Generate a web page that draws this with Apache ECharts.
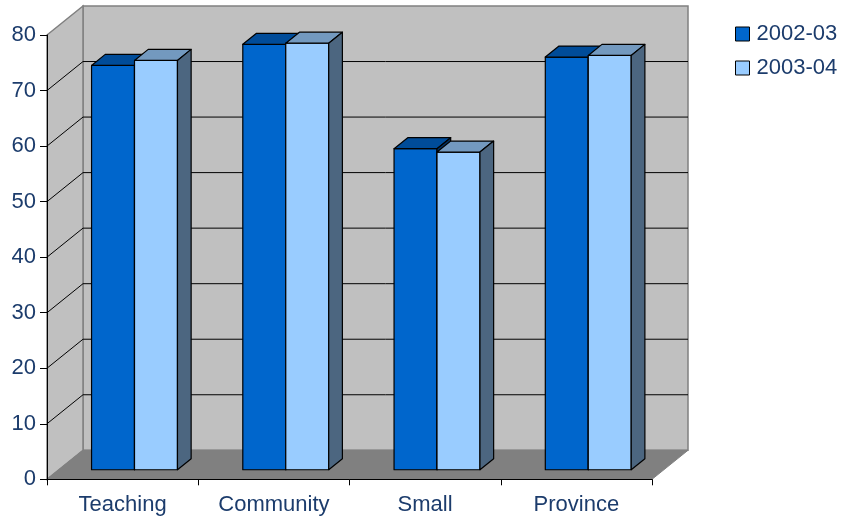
<!DOCTYPE html>
<html>
<head>
<meta charset="utf-8">
<script src="https://cdn.jsdelivr.net/npm/echarts@6/dist/echarts.min.js"></script>
<style>
  html, body { margin: 0; padding: 0; background: #ffffff; }
  #chart { width: 842px; height: 518px; }
</style>
</head>
<body>
<div id="chart"></div>
<script>
// Categories and values per school year
const categories = ['Teaching', 'Community', 'Small', 'Province'];
const seriesNames = ['2002-03', '2003-04'];
const values2002 = [72.8, 76.6, 57.8, 74.3];
const values2003 = [73.7, 76.8, 57.2, 74.6];
const yTicks = { min: 0, max: 80, interval: 10 };

// Box-drawing look
const FONT = "'Liberation Sans', Arial, sans-serif";
const TEXT_COLOR = '#1c3c6c';
const WALL = { x: 36, y: -29 };          // pixel offset from front plane to back wall
const FRONT_D = 0.33;                    // depth fraction of the bar front faces
const BAR_D = 0.38;                      // bar thickness as depth fraction
const BAR_FRAC = 0.284;                  // bar width as share of a category band
const PALETTE = [
  { front: '#0066cc', top: '#004c99', side: '#003366' },
  { front: '#99ccff', top: '#7399bf', side: '#4c6680' }
];

function renderWalls(params, api) {
  const band = api.size([1, 0])[0];
  const left = api.coord([0, 0])[0] - band / 2;
  const right = api.coord([categories.length - 1, 0])[0] + band / 2;
  const yAt = v => api.coord([0, v])[1];
  const y0 = yAt(yTicks.min), yTop = yAt(yTicks.max);
  const dx = WALL.x, dy = WALL.y;
  const wallStyle = { fill: '#c0c0c0', stroke: '#808080', lineWidth: 1.5 };
  const children = [
    { type: 'polygon', shape: { points: [[left + dx, yTop + dy], [right + dx, yTop + dy], [right + dx, y0 + dy], [left + dx, y0 + dy]] }, style: wallStyle },
    { type: 'polygon', shape: { points: [[left, yTop], [left + dx, yTop + dy], [left + dx, y0 + dy], [left, y0]] }, style: wallStyle },
    { type: 'polygon', shape: { points: [[left, y0], [right, y0], [right + dx, y0 + dy], [left + dx, y0 + dy]] }, style: { fill: '#808080', stroke: '#808080', lineWidth: 1 } }
  ];
  for (let v = yTicks.min + yTicks.interval; v < yTicks.max; v += yTicks.interval) {
    const y = yAt(v);
    children.push({ type: 'line', shape: { x1: left + dx, y1: y + dy, x2: right + dx, y2: y + dy }, style: { stroke: '#000', lineWidth: 1 } });
    children.push({ type: 'line', shape: { x1: left, y1: y, x2: left + dx, y2: y + dy }, style: { stroke: '#000', lineWidth: 1 } });
  }
  return { type: 'group', children };
}

function makeBarRenderer(idx) {
  const col = PALETTE[idx];
  return function (params, api) {
    const cat = api.value(0), v = api.value(1);
    const band = api.size([1, 0])[0];
    const w = band * BAR_FRAC;
    const base = api.coord([cat, 0]);
    const top = api.coord([cat, v]);
    const fx = WALL.x * FRONT_D, fy = WALL.y * FRONT_D;
    const dx = WALL.x * BAR_D, dy = WALL.y * BAR_D;
    const x0 = base[0] + fx + (idx === 0 ? -w : 0);
    const x1 = x0 + w;
    const yb = base[1] + fy, yt = top[1] + fy;
    const edge = { stroke: '#000', lineWidth: 1.2, lineJoin: 'round' };
    return {
      type: 'group',
      children: [
        { type: 'polygon', shape: { points: [[x0, yb], [x1, yb], [x1, yt], [x0, yt]] }, style: Object.assign({ fill: col.front }, edge) },
        { type: 'polygon', shape: { points: [[x0, yt], [x1, yt], [x1 + dx, yt + dy], [x0 + dx, yt + dy]] }, style: Object.assign({ fill: col.top }, edge) },
        { type: 'polygon', shape: { points: [[x1, yb], [x1, yt], [x1 + dx, yt + dy], [x1 + dx, yb + dy]] }, style: Object.assign({ fill: col.side }, edge) }
      ]
    };
  };
}

const chart = echarts.init(document.getElementById('chart'), null, { renderer: 'canvas' });
chart.setOption({
  animation: false,
  backgroundColor: '#ffffff',
  grid: { left: 47, right: 190, top: 35, bottom: 38.7, containLabel: false },
  legend: {
    orient: 'vertical',
    left: 730,
    top: 18,
    itemWidth: 14,
    itemHeight: 14,
    itemGap: 12,
    icon: 'rect',
    textStyle: { fontFamily: FONT, fontSize: 22, color: TEXT_COLOR, padding: [0, 0, 0, 2] },
    data: seriesNames.map((n, i) => ({ name: n, itemStyle: { color: PALETTE[i].front, borderColor: '#000', borderWidth: 1 } }))
  },
  xAxis: {
    type: 'category',
    data: categories,
    z: 5,
    boundaryGap: true,
    axisLine: { lineStyle: { color: '#000', width: 1 } },
    axisTick: { show: true, length: 6, lineStyle: { color: '#000' } },
    axisLabel: { fontFamily: FONT, fontSize: 22, color: TEXT_COLOR, margin: 15 },
    splitLine: { show: false }
  },
  yAxis: {
    type: 'value',
    min: yTicks.min,
    max: yTicks.max,
    interval: yTicks.interval,
    z: 5,
    axisLine: { show: true, lineStyle: { color: '#000', width: 1 } },
    axisTick: { show: true, length: 7, lineStyle: { color: '#000' } },
    axisLabel: { fontFamily: FONT, fontSize: 22, color: TEXT_COLOR, margin: 11 },
    splitLine: { show: false }
  },
  series: [
    { name: 'walls', type: 'custom', renderItem: renderWalls, data: [[0, 0]], z: 1, clip: false, silent: true },
    {
      name: seriesNames[0], type: 'custom', renderItem: makeBarRenderer(0), z: 2, clip: false,
      itemStyle: { color: PALETTE[0].front },
      encode: { x: 0, y: 1 },
      data: values2002.map((v, i) => [i, v])
    },
    {
      name: seriesNames[1], type: 'custom', renderItem: makeBarRenderer(1), z: 3, clip: false,
      itemStyle: { color: PALETTE[1].front },
      encode: { x: 0, y: 1 },
      data: values2003.map((v, i) => [i, v])
    }
  ]
});
</script>
</body>
</html>
